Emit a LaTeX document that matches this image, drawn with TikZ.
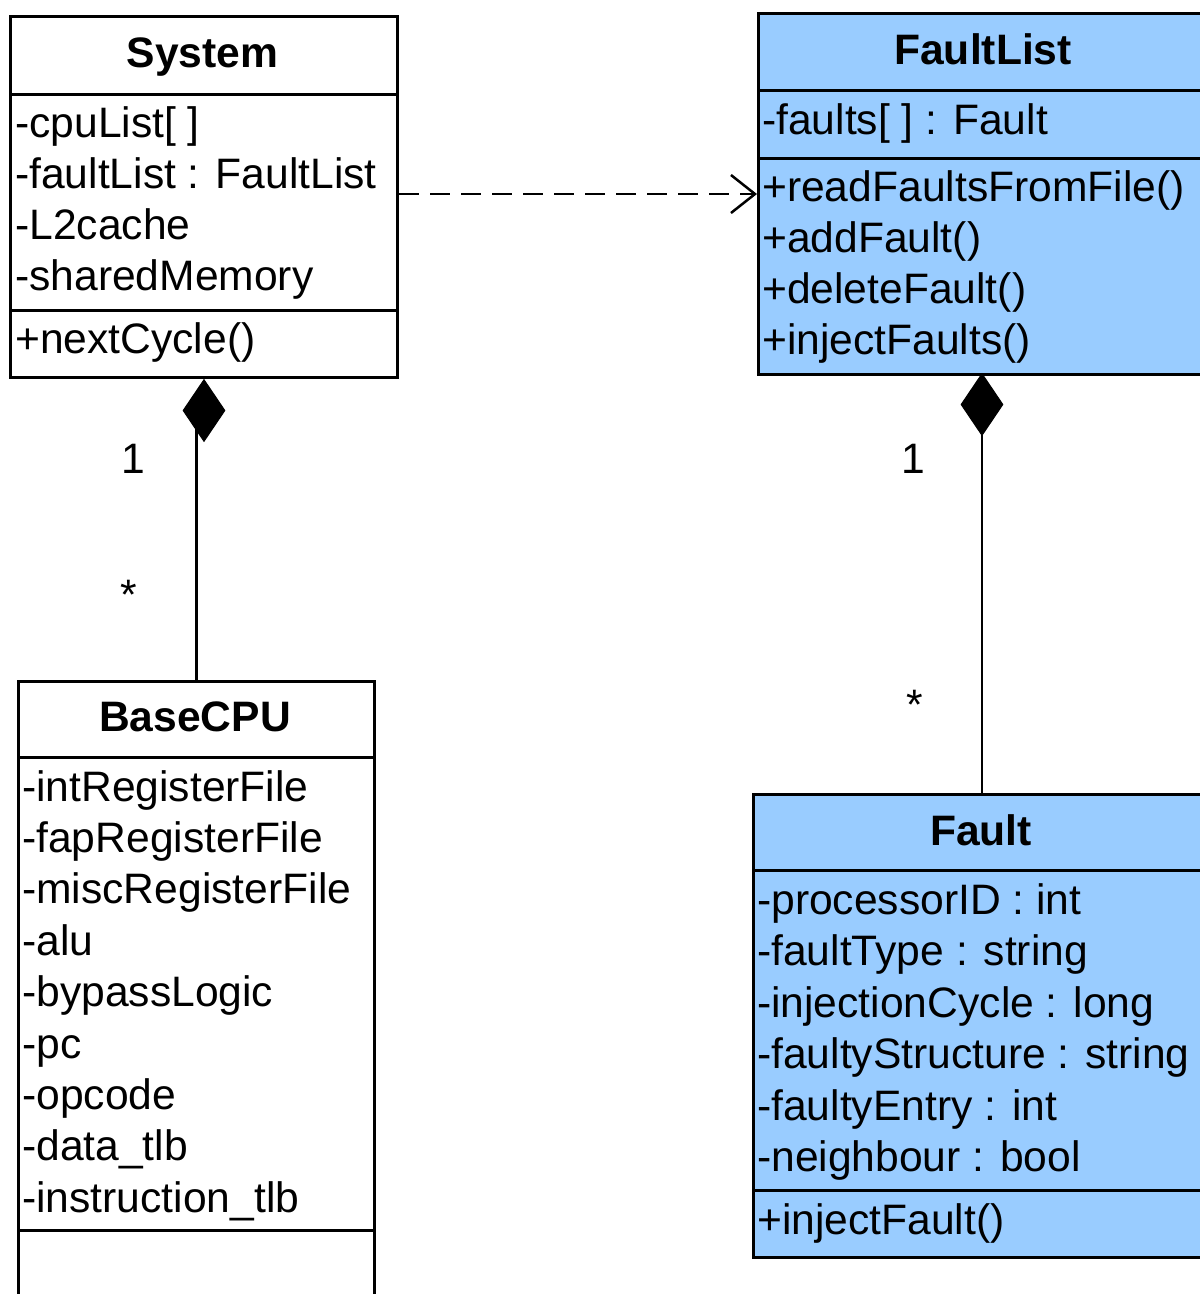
\documentclass[tikz,border=0pt]{standalone}
\usepackage{fontspec}
\setmainfont{Liberation Sans}
\usetikzlibrary{arrows.meta,shapes.geometric}
\definecolor{umlblue}{RGB}{153,204,255}
\tikzset{
  comp/.style={draw, line width=3pt, anchor=north west, inner sep=0pt},
  bluecomp/.style={comp, fill=umlblue},
  attr/.style={anchor=base west, inner sep=0pt, font=\fontsize{42.6}{51}\selectfont},
  ttl/.style={anchor=base, inner sep=0pt, font=\fontsize{42.6}{51}\selectfont\bfseries},
  mult/.style={anchor=base, inner sep=0pt, font=\fontsize{42.6}{51}\selectfont},
  compo/.style={diamond, fill=black, draw=black, line width=1pt, inner sep=0pt, minimum width=42pt, minimum height=62pt, anchor=north},
  assoc/.style={line width=2.5pt},
  dep/.style={line width=2.5pt, dash pattern=on 20pt off 11pt, -{Straight Barb[length=24pt,width=38pt,line width=2.5pt]}},
}
\begin{document}
\begin{tikzpicture}[x=1pt,y=-1pt]
\useasboundingbox (0,0) rectangle (1200,1294);
\fill[white] (0,0) rectangle (1200,1294);
\clip (0,0) rectangle (1200,1294);

% System
\node[comp, minimum width=387pt, minimum height=78pt] (sysT) at (9,15) {};
\node[comp, minimum width=387pt, minimum height=216pt] (sysA) at (9,93) {};
\node[comp, minimum width=387pt, minimum height=67pt] (sysO) at (9,309) {};
\node[ttl] (sysN) at (202.5,67) {System};
\foreach \t [count=\i] in {{-cpuList[ ]},{-faultList : FaultList},{-L2cache},{-sharedMemory}}
  \node[attr] (sysA\i) at (15,{137+51*(\i-1)}) {\t};
\node[attr] (sysO1) at (15,353) {+nextCycle()};

% FaultList
\node[bluecomp, minimum width=453pt, minimum height=77pt] (flT) at (757,12) {};
\node[bluecomp, minimum width=453pt, minimum height=68pt] (flA) at (757,89) {};
\node[bluecomp, minimum width=453pt, minimum height=216pt] (flO) at (757,157) {};
\node[ttl] (flN) at (983,64) {FaultList};
\node[attr] (flA1) at (762,134) {-faults[ ] : Fault};
\foreach \t [count=\i] in {{+readFaultsFromFile()},{+addFault()},{+deleteFault()},{+injectFaults()}}
  \node[attr] (flO\i) at (762,{201+51.3*(\i-1)}) {\t};

% BaseCPU
\node[comp, minimum width=356pt, minimum height=76pt] (cpuT) at (17,680) {};
\node[comp, minimum width=356pt, minimum height=473pt] (cpuA) at (17,756) {};
\node[comp, minimum width=356pt, minimum height=90pt] (cpuO) at (17,1229) {};
\node[ttl] (cpuN) at (195,731) {BaseCPU};
\foreach \t [count=\i] in {{-intRegisterFile},{-fapRegisterFile},{-miscRegisterFile},{-alu},{-bypassLogic},{-pc},{-opcode},{-data\_tlb},{-instruction\_tlb}}
  \node[attr] (cpuA\i) at (22,{801+51.4*(\i-1)}) {\t};

% Fault
\node[bluecomp, minimum width=458pt, minimum height=76pt] (fT) at (752,793) {};
\node[bluecomp, minimum width=458pt, minimum height=320pt] (fA) at (752,869) {};
\node[bluecomp, minimum width=458pt, minimum height=67pt] (fO) at (752,1189) {};
\node[ttl] (fN) at (981,845) {Fault};
\foreach \t [count=\i] in {{-processorID : int},{-faultType : string},{-injectionCycle : long},{-faultyStructure : string},{-faultyEntry : int},{-neighbour : bool}}
  \node[attr] (fA\i) at (757,{914+51.5*(\i-1)}) {\t};
\node[attr] (fO1) at (757,1234) {+injectFault()};

% composition System - BaseCPU
\node[compo] (d1) at (sysO.south) {};
\draw[assoc] (cpuT.north) -- (cpuT.north |- d1.center);
\node[mult] (m1a) at (133,473) {1};
\node[mult] (m1b) at (129,609) {*};

% composition FaultList - Fault
\node[compo] (d2) at (982,373) {};
\draw[assoc] (fT.north -| d2.center) -- (d2.center);
\node[mult] (m2a) at (913,473) {1};
\node[mult] (m2b) at (915,719) {*};

% dependency System -> FaultList
\coordinate (depS) at (sysA.east |- 0,194);
\coordinate (depE) at (flO.west |- 0,194);
\draw[dep] (depS) -- (depE);
\end{tikzpicture}
\end{document}
